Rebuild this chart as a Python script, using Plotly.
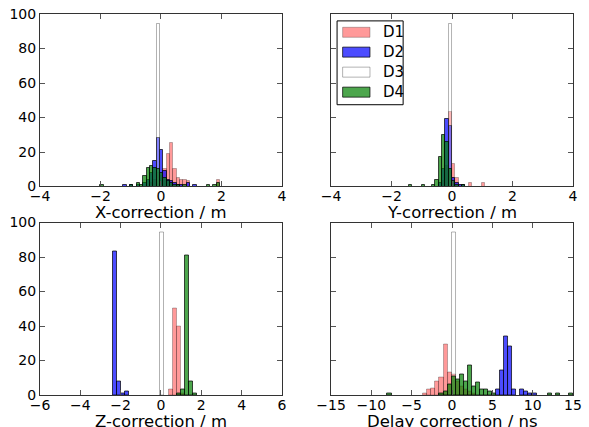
import plotly.graph_objects as go
from plotly.subplots import make_subplots

# ---------------- data (histogram bin centres / counts) ----------------
names = ["D1", "D2", "D3", "D4"]

# X-correction / m
x_w = 0.11
x_d1_c = [-0.305, -0.195, -0.085, 0.025, 0.135, 0.245, 0.355, 0.465, 0.575, 0.685, 0.795, 0.905, 1.895]
x_d1_n = [2, 4, 8, 6, 10, 19, 25, 10, 5, 4, 4, 3, 4]
x_d2_c = [-1.185, -0.965, -0.745, -0.525, -0.415, -0.305, -0.195, -0.085, 0.025, 0.135, 0.245, 0.355, 0.465, 0.575, 0.685, 0.905, 1.125]
x_d2_n = [1, 1, 1, 2, 4, 8, 15, 28, 21, 9, 4, 3, 2, 1, 1, 2, 1]
x_d3_c = [-0.085]
x_d3_n = [94]
x_d4_c = [-1.955, -0.965, -0.745, -0.635, -0.525, -0.415, -0.305, -0.195, -0.085, 0.025, 0.135, 0.245, 0.355, 0.465, 0.575, 0.795, 1.565, 1.785, 1.895]
x_d4_n = [1, 1, 2, 1, 6, 11, 12, 11, 10, 8, 5, 3, 2, 1, 1, 1, 1, 1, 2]

# Y-correction / m
y_w = 0.11
y_d1_c = [-0.275, -0.165, -0.055, 0.055, 0.165, 0.275, 0.605, 1.045]
y_d1_n = [3, 12, 43, 13, 5, 1, 2, 2]
y_d2_c = [-0.385, -0.275, -0.165, -0.055, 0.055, 0.165, 0.275, 0.385]
y_d2_n = [2, 10, 39, 35, 5, 2, 1, 1]
y_d3_c = [-0.055]
y_d3_n = [94]
y_d4_c = [-1.375, -0.935, -0.605, -0.495, -0.385, -0.275, -0.165, -0.055, 0.055, 0.165, 0.385]
y_d4_n = [1, 1, 1, 4, 17, 30, 26, 10, 3, 1, 1]

# Z-correction / m
z_w = 0.2
z_d1_c = [0.5, 0.7, 0.9, 1.1]
z_d1_n = [3, 50, 40, 1]
z_d2_c = [-2.3, -2.1, -1.9, -1.7]
z_d2_n = [83, 8, 1, 2]
z_d3_c = [0.05]
z_d3_n = [94]
z_d4_c = [0.9, 1.1, 1.3, 1.5, 1.7]
z_d4_n = [1, 3, 81, 8, 1]

# Delay correction / ns
d_w = 0.5
d_d1_c = [-3.3, -2.8, -2.3, -1.8, -1.3, -0.8, -0.3, 0.2, 0.7, 1.2, 1.7, 2.2, 2.7]
d_d1_n = [1, 3, 4, 8, 10, 29, 13, 12, 8, 5, 3, 2, 1]
d_d2_c = [5.73, 6.23, 6.73, 7.23, 7.73, 8.73, 9.23, 9.73, 10.23]
d_d2_n = [3, 14, 34, 28, 3, 3, 2, 1, 1]
d_d3_c = [0.23]
d_d3_n = [94]
d_d4_c = [-7.75, -1.3, -0.8, -0.3, 0.2, 0.7, 1.2, 1.7, 2.2, 2.7, 3.2, 3.7, 4.2, 4.7, 5.2, 12.1, 13.2, 14.7]
d_d4_n = [1, 1, 2, 6, 11, 9, 12, 8, 17, 5, 7, 3, 3, 2, 1, 1, 1, 1]

x_titles = ["X-correction / m", "Y-correction / m", "Z-correction / m", "Delay correction / ns"]
x_ranges = [[-4, 4], [-4, 4], [-6, 6], [-15, 15]]
x_dticks = [2, 2, 2, 5]
y_ticks = [0, 20, 40, 60, 80, 100]

# ---------------- styles ----------------
fills = ["rgba(255,0,0,0.4)", "rgba(0,0,255,0.7)", "rgba(255,255,255,0.3)", "rgba(0,128,0,0.7)"]
edges = ["rgba(0,0,0,0.25)", "rgba(0,0,0,0.7)", "rgba(0,0,0,0.3)", "rgba(0,0,0,0.7)"]

panels = [
    (x_w, [(x_d1_c, x_d1_n), (x_d2_c, x_d2_n), (x_d3_c, x_d3_n), (x_d4_c, x_d4_n)]),
    (y_w, [(y_d1_c, y_d1_n), (y_d2_c, y_d2_n), (y_d3_c, y_d3_n), (y_d4_c, y_d4_n)]),
    (z_w, [(z_d1_c, z_d1_n), (z_d2_c, z_d2_n), (z_d3_c, z_d3_n), (z_d4_c, z_d4_n)]),
    (d_w, [(d_d1_c, d_d1_n), (d_d2_c, d_d2_n), (d_d3_c, d_d3_n), (d_d4_c, d_d4_n)]),
]

fig = make_subplots(rows=2, cols=2, horizontal_spacing=0.092, vertical_spacing=0.0945)

FONT = "DejaVu Sans"
annotations = []
axis_ids = ["x", "x2", "x3", "x4"]
for p, (w, series) in enumerate(panels):
    r, c = p // 2 + 1, p % 2 + 1
    for i, (cs, ns) in enumerate(series):
        width = w if not (p == 3 and i == 2) else 0.54
        fig.add_trace(go.Bar(x=cs, y=ns, width=[width] * len(cs), name=names[i],
                             marker=dict(color=fills[i], line=dict(color=edges[i], width=1)),
                             showlegend=False), row=r, col=c)
    fig.update_xaxes(range=x_ranges[p], dtick=x_dticks[p], tick0=0, ticks="inside", ticklen=5,
                     tickcolor="#555", showline=True, linecolor="#333", linewidth=1, mirror="ticks",
                     showgrid=False, zeroline=False, automargin=False, ticklabelstandoff=-3,
                     tickfont=dict(size=14, color="black"), row=r, col=c)
    fig.update_yaxes(range=[0, 100], tickvals=y_ticks, ticks="inside", ticklen=5, tickcolor="#555",
                     showline=True, linecolor="#333", linewidth=1, mirror="ticks",
                     showgrid=False, zeroline=False, showticklabels=(c == 1), automargin=False,
                     tickfont=dict(size=14, color="black"), row=r, col=c)
    ax = axis_ids[p]
    annotations.append(dict(xref=ax + " domain", yref=ax.replace("x", "y") + " domain", x=0.5, y=0,
                            yshift=-15, xanchor="center", yanchor="top", showarrow=False,
                            text=x_titles[p], font=dict(size=16.5, color="black", family=FONT)))

# manual legend in the top-right panel
shapes = [dict(type="rect", xref="x2 domain", yref="y2 domain", x0=0.025, x1=0.298, y0=0.474, y1=0.960,
               line=dict(color="black", width=1), fillcolor="white", layer="above")]
row_y = [0.894, 0.779, 0.663, 0.547]
for i, nm in enumerate(names):
    shapes.append(dict(type="rect", xref="x2 domain", yref="y2 domain", x0=0.048, x1=0.161,
                       y0=row_y[i] - 0.029, y1=row_y[i] + 0.029,
                       line=dict(color=edges[i], width=1), fillcolor=fills[i], layer="above"))
    annotations.append(dict(xref="x2 domain", yref="y2 domain", x=0.205, y=row_y[i], text=nm,
                            showarrow=False, xanchor="left", yanchor="middle",
                            font=dict(size=15, color="black", family=FONT)))

fig.update_layout(width=589, height=427, margin=dict(l=40, r=16, t=14, b=32),
                  barmode="overlay", bargap=0, plot_bgcolor="white", paper_bgcolor="white",
                  font=dict(family=FONT, color="black"), showlegend=False,
                  shapes=shapes, annotations=annotations)

fig.write_html("out.html")
